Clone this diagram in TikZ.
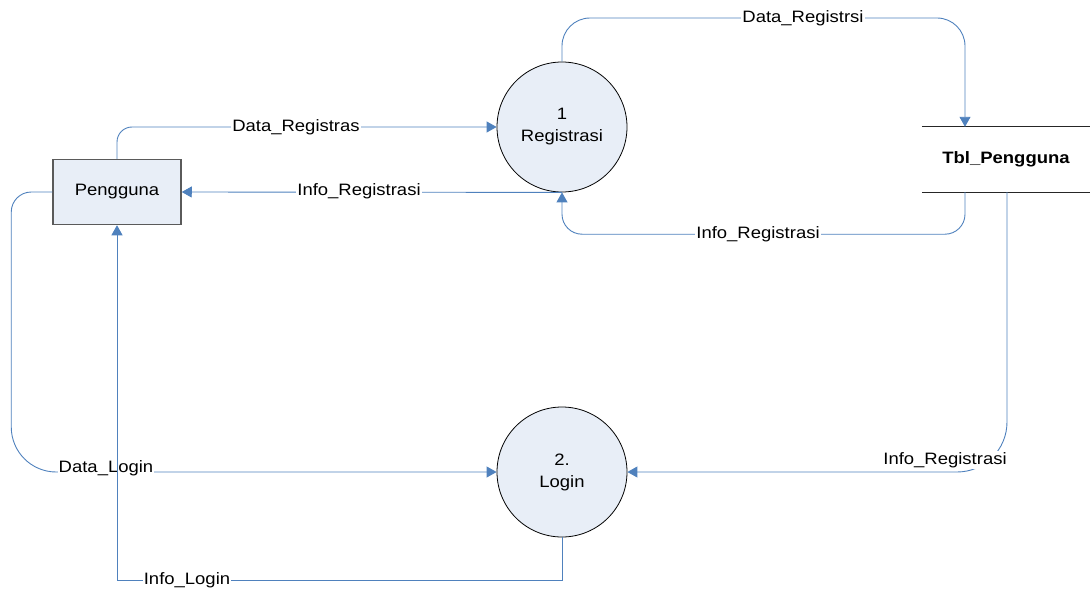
\documentclass[tikz,border=0pt]{standalone}
\usepackage{fontspec}
\setmainfont{Liberation Sans}[FakeStretch=1.12]
\usetikzlibrary{arrows.meta}
\definecolor{flowblue}{RGB}{79,129,189}
\definecolor{procfill}{RGB}{232,238,247}
\definecolor{boxedge}{RGB}{90,90,90}
\tikzset{
  every node/.style={font=\fontsize{16.5}{22}\selectfont},
  extbox/.style={draw=boxedge, line width=1.5pt, fill=procfill, minimum width=128pt, minimum height=65pt, inner sep=0pt},
  proc/.style={circle, draw=black, line width=0.8pt, fill=procfill, minimum size=130pt, inner sep=0pt, align=center},
  store/.style={minimum width=168pt, minimum height=65pt, inner sep=0pt, font=\fontsize{16.5}{22}\selectfont\bfseries},
  storeline/.style={draw=black!85, line width=1pt},
  flow/.style={draw=flowblue, line width=0.9pt, -{Triangle[length=10pt,width=11pt]}},
  flowlabel/.style={fill=white, inner sep=1pt}
}
\begin{document}
\begin{tikzpicture}[x=1pt,y=-1pt]
\useasboundingbox (0,0) rectangle (1090,594);

% entities, processes and data store
\node[extbox] (peng) at (117,192) {Pengguna};
\node[proc] (reg) at (562,127) {1\\Registrasi};
\node[proc] (login) at (562,472) {2.\\Login};
\node[store] (tbl) at (1006,159.5) {Tbl\_Pengguna};
\draw[storeline] (tbl.north west) -- (tbl.north east);
\draw[storeline] (tbl.south west) -- (tbl.south east);

% registration flows
\draw[flow, rounded corners=15] (peng.north) |- (reg.west);
\node[flowlabel] (lbldreg) at (296,127) {Data\_Registras};
\draw[flow] (reg.south) -- (peng.east);
\node[flowlabel] (lblireg) at (359,191) {Info\_Registrasi};
\draw[flow, rounded corners=28] (reg.north) |- (760,18) -| ([xshift=-41pt]tbl.north);
\node[flowlabel] (lbldregs) at (803,18) {Data\_Registrsi};
\draw[flow, rounded corners=20] ([xshift=-41pt]tbl.south) -- ++(0,42) -| (reg.south);
\node[flowlabel] (lbliregb) at (758,234) {Info\_Registrasi};

% login flows
\draw[flow, rounded corners=50] ([xshift=1pt]tbl.south) |- (login.east);
\node[flowlabel] (lblinfo) at (945,460) {Info\_Registrasi};
\draw[flow] (peng.west) [rounded corners=20] -- ++(-41,0) [rounded corners=45] -- ++(0,280) [sharp corners] -- (login.west);
\node[flowlabel] (lbldata) at (106,468) {Data\_Login};
\draw[flow] (login.south) -- ++(0,43) -| (peng.south);
\node[flowlabel] (lbllogin) at (187,580) {Info\_Login};
\end{tikzpicture}
\end{document}
